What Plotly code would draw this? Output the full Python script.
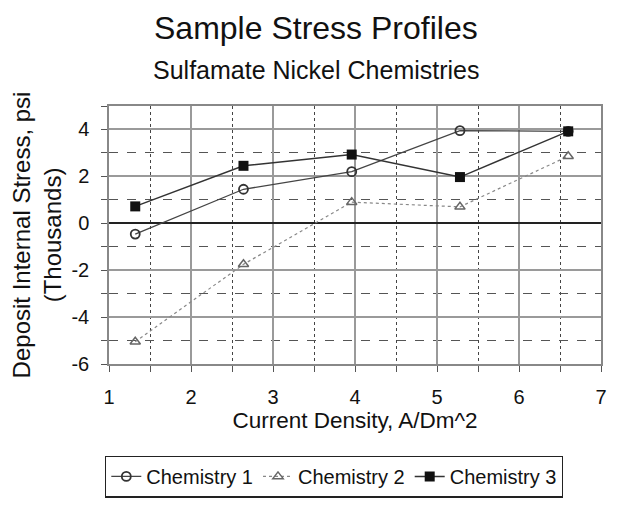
import plotly.graph_objects as go

current_density = [1.32, 2.64, 3.96, 5.28, 6.6]
chem1 = [-0.46, 1.45, 2.2, 3.95, 3.92]
chem2 = [-5.05, -1.75, 0.9, 0.7, 2.86]
chem3 = [0.72, 2.45, 2.93, 1.97, 3.92]
series_names = ["Chemistry 1", "Chemistry 2", "Chemistry 3"]
y_tick_values = [-6, -4, -2, 0, 2, 4]
y_tick_labels = ["-6", "-4", "-2", "0", "2", "4"]

FONT = "Liberation Sans, Arial, sans-serif"

OFF = 8  # page body margin
W, H = 617 - OFF, 509 - OFF
L, R, T, B = 109 - OFF, 601 - OFF, 106 - OFF, 368 - OFF
PW, PH = R - L, B - T

fig = go.Figure()
fig.add_trace(go.Scatter(
    x=current_density, y=chem1, name=series_names[0], mode="lines+markers",
    line=dict(color="#444444", width=1.3),
    marker=dict(symbol="circle-open", size=9, color="#333333", line=dict(width=1.8)),
))
fig.add_trace(go.Scatter(
    x=current_density, y=chem2, name=series_names[1], mode="lines+markers",
    line=dict(color="#888888", width=1.2, dash="dot"),
    marker=dict(symbol="triangle-up-open", size=9, color="#666666", line=dict(width=1.5)),
))
fig.add_trace(go.Scatter(
    x=current_density, y=chem3, name=series_names[2], mode="lines+markers",
    line=dict(color="#333333", width=1.5),
    marker=dict(symbol="square", size=10, color="#111111"),
))

fig.update_layout(
    width=W, height=H,
    paper_bgcolor="white", plot_bgcolor="white",
    margin=dict(l=L, r=W - R, t=T, b=H - B),
    font=dict(family=FONT, color="#111111"),
    showlegend=True,
    legend=dict(
        orientation="h", x=(334 - OFF - L) / PW, xanchor="center",
        y=(B - (461 - OFF)) / PH, yanchor="top",
        bordercolor="#222222", borderwidth=1.3, bgcolor="white",
        font=dict(size=20, family=FONT, color="#111111"), itemwidth=30, tracegroupgap=0,
    ),
)
fig.add_annotation(text="Sample Stress Profiles", x=(316 - OFF - L) / PW, y=1 + (T - (27 - OFF)) / PH,
                   xref="paper", yref="paper", showarrow=False,
                   font=dict(size=32, family=FONT), xanchor="center", yanchor="middle")
fig.add_annotation(text="Sulfamate Nickel Chemistries", x=(316 - OFF - L) / PW, y=1 + (T - (69 - OFF)) / PH,
                   xref="paper", yref="paper", showarrow=False,
                   font=dict(size=25, family=FONT), xanchor="center", yanchor="middle")

fig.update_xaxes(
    range=[1, 7], tick0=1, dtick=1, automargin=False,
    showgrid=True, gridcolor="#9a9a9a", gridwidth=1.5,
    ticks="outside", ticklen=6, tickcolor="#555555",
    ticklabelstandoff=8,
    showline=True, linecolor="#888888", linewidth=1.5, mirror=True,
    zeroline=False,
    tickfont=dict(size=20, family=FONT, color="#111111"),
    minor=dict(dtick=0.5, showgrid=True, gridcolor="#444444", griddash="dot", gridwidth=1,
               ticks="outside", ticklen=6, tickcolor="#555555"),
    title=dict(text="Current Density, A/Dm^2", font=dict(size=22.5, family=FONT, color="#111111"),
               standoff=4),
)
fig.update_yaxes(
    range=[-6, 5], tickmode="array", tickvals=y_tick_values, ticktext=y_tick_labels,
    automargin=False,
    showgrid=True, gridcolor="#9a9a9a", gridwidth=1.5,
    ticks="outside", ticklen=6, tickcolor="#555555",
    ticklabelstandoff=8,
    showline=True, linecolor="#888888", linewidth=1.5, mirror=True,
    zeroline=True, zerolinecolor="#222222", zerolinewidth=1.8,
    tickfont=dict(size=20, family=FONT, color="#111111"),
    minor=dict(dtick=1, tick0=0, showgrid=True, gridcolor="#555555", griddash="dash", gridwidth=1,
               ticks="outside", ticklen=6, tickcolor="#555555"),
    title=dict(text="Deposit Internal Stress, psi<br>(Thousands)",
               font=dict(size=24, family=FONT, color="#111111"), standoff=6),
)

fig.write_html("out.html")
